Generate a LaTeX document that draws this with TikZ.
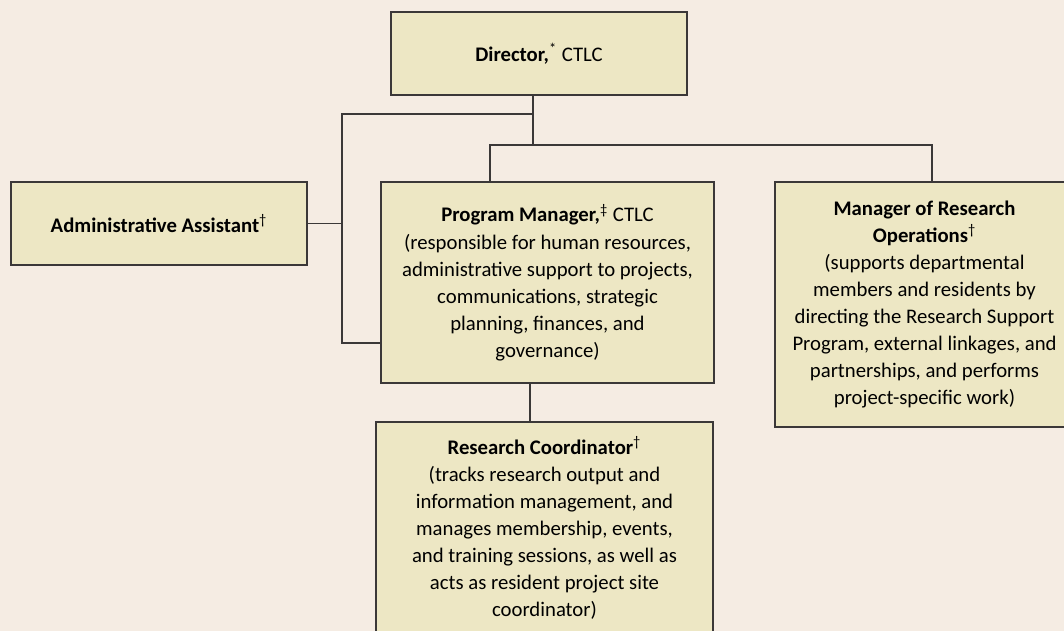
\documentclass[tikz,border=0pt]{standalone}
\usepackage{fontspec}
\setmainfont{Carlito}

\definecolor{pagebg}{HTML}{F5ECE3}
\definecolor{boxfill}{HTML}{EDE7C4}
\definecolor{linegray}{HTML}{3B3838}

\tikzset{
	orgbox/.style={draw=linegray, fill=boxfill, line width=1.1pt, align=center, inner sep=0pt,
		font=\fontsize{11.8}{15.4}\selectfont},
	orgline/.style={draw=linegray, line width=1.1pt}
}

\begin{document}
\begin{tikzpicture}[x=0.02cm,y=-0.02cm]
		\fill[pagebg] (0,0) rectangle (1064,631);
		\useasboundingbox (0,0) rectangle (1064,631);
		\clip (0,0) rectangle (1064,631);
		
		% Boxes of the chart
		\node[orgbox, minimum width=5.92cm, minimum height=1.66cm] (dir) at (539,53.5)
		{\textbf{Director,}\textsuperscript{*} CTLC};
		
		\node[orgbox, minimum width=5.92cm, minimum height=1.66cm] (adm) at (159,223.5)
		{\textbf{Administrative Assistant}\textsuperscript{†}};
		
		\node[orgbox, minimum width=6.66cm, minimum height=4.02cm] (pm) at (547.5,282.5)
		{\textbf{Program Manager,}\textsuperscript{‡} CTLC\\(responsible for human resources,\\administrative support to projects,\\communications, strategic\\planning, finances, and\\governance)};
		
		\node[orgbox, minimum width=5.98cm, minimum height=4.9cm] (mro) at (924.5,304.5)
		{\textbf{Manager of Research}\\\textbf{Operations}\textsuperscript{†}\\(supports departmental\\members and residents by\\directing the Research Support\\Program, external linkages, and\\partnerships, and performs\\project-specific work)};
		
		\node[orgbox, minimum width=6.74cm, minimum height=4.24cm] (rc) at (544.5,528)
		{\textbf{Research Coordinator}\textsuperscript{†}\\(tracks research output and\\information management, and\\manages membership, events,\\and training sessions, as well as\\acts as resident project site\\coordinator)};
		
		% Junctions of the connecting lines
		\coordinate (split) at (533,114);
		\coordinate (fork) at (533,145);
		\coordinate (rail) at (342,343);
		\coordinate (pmx) at (490,0);
		\coordinate (mrox) at (932,0);
		\coordinate (rcx) at (530,0);
		
		% Connecting lines
		\draw[orgline] (dir.south -| split) -- (fork);
		\draw[orgline] (split) -| (rail) -- (rail -| pm.west);
		\draw[orgline] (adm.east) -- (adm.east -| rail);
		\draw[orgline] (pm.north -| pmx) |- (fork) -| (mro.north -| mrox);
		\draw[orgline] (pm.south -| rcx) -- (rc.north -| rcx);
		
	\end{tikzpicture}
\end{document}
